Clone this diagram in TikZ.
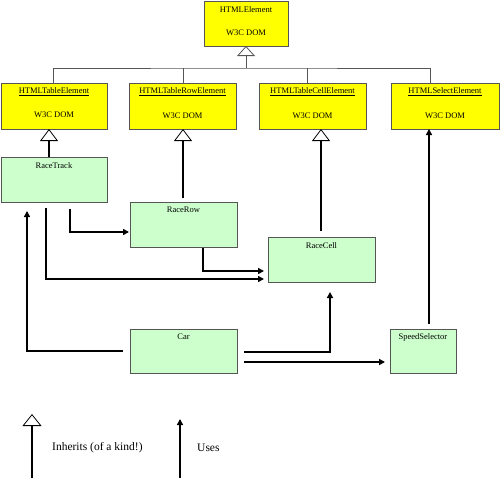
\documentclass[tikz,border=0pt]{standalone}
\usepackage{fontspec}
\setmainfont{Liberation Serif}
\usetikzlibrary{arrows.meta,calc}
\definecolor{boxgreen}{HTML}{CCFFCC}
\definecolor{boxyellow}{HTML}{FFFF00}
\definecolor{edge}{HTML}{555555}
\begin{document}
\begin{tikzpicture}[x=1pt,y=-1pt,
  ybox/.style={draw=edge, line width=0.9pt, fill=boxyellow, anchor=north west, inner sep=0pt, outer sep=0pt, minimum height=46pt},
  gbox/.style={draw=edge, line width=0.9pt, fill=boxgreen, anchor=north west, inner sep=0pt, outer sep=0pt, minimum height=45pt},
  lbl/.style={font=\fontsize{8.5}{10}\selectfont, inner sep=0pt},
  leg/.style={font=\fontsize{11.5}{13}\selectfont, inner sep=0pt, anchor=west},
  tree/.style={draw=edge, line width=1pt},
  inhtop/.style={-{Triangle[open, length=10pt, width=18pt, line width=0.8pt]}},
  inh/.style={draw=black, line width=1.6pt, -{Triangle[open, length=12pt, width=18pt, line width=0.8pt]}},
  uses/.style={draw=black, line width=2pt, -{Triangle[length=6pt, width=6pt]}},
  plain/.style={draw=black, line width=2pt}
]
\useasboundingbox (0,0) rectangle (500,479);

% W3C DOM boxes
\node[ybox, minimum width=84pt, minimum height=45pt] (he) at (204,1) {};
\node[ybox, minimum width=106pt] (hte) at (1,83) {};
\node[ybox, minimum width=107pt] (htr) at (129,83) {};
\node[ybox, minimum width=107pt] (htc) at (259,83) {};
\node[ybox, minimum width=108pt] (hse) at (391,83) {};

\node[lbl] (he-a) at ($(he.north)+(0,9)$) {HTMLElement};
\node[lbl] (he-b) at ($(he.north)+(0,32)$) {W3C DOM};
\node[lbl] (hte-a) at ($(hte.north)+(0,9)$) {\underline{HTMLTableElement}};
\node[lbl] (hte-b) at ($(hte.north)+(0,32)$) {W3C DOM};
\node[lbl] (htr-a) at ($(htr.north)+(0,9)$) {\underline{HTMLTableRowElement}};
\node[lbl] (htr-b) at ($(htr.north)+(0,33)$) {W3C DOM};
\node[lbl] (htc-a) at ($(htc.north)+(0,9)$) {\underline{HTMLTableCellElement}};
\node[lbl] (htc-b) at ($(htc.north)+(0,33)$) {W3C DOM};
\node[lbl] (hse-a) at ($(hse.north)+(0,9)$) {\underline{HTMLSelectElement}};
\node[lbl] (hse-b) at ($(hse.north)+(0,33)$) {W3C DOM};

% application boxes
\node[gbox, minimum width=106pt] (rt) at (1,157) {};
\node[gbox, minimum width=107pt] (rr) at (130,202) {};
\node[gbox, minimum width=107pt] (rc) at (268,237) {};
\node[gbox, minimum width=107pt, minimum height=44pt] (car) at (130,329) {};
\node[gbox, minimum width=66pt, minimum height=44pt] (ss) at (390,329) {};

\node[lbl] (rt-a) at ($(rt.north)+(0,9)$) {RaceTrack};
\node[lbl] (rr-a) at ($(rr.north)+(0,8)$) {RaceRow};
\node[lbl] (rc-a) at ($(rc.north)+(0,9)$) {RaceCell};
\node[lbl] (car-a) at ($(car.north)+(0,8)$) {Car};
\node[lbl] (ss-a) at ($(ss.north)+(0,8)$) {SpeedSelector};

% inheritance tree from HTMLElement
\coordinate (j) at ($(he.south)+(0,22)$);
\draw[tree] ($(hte.north west)+(52,0)$) |- (j) -| ($(hse.north west)+(39,0)$);
\draw[tree] ($(htr.north west)+(54,0)$) -- ($(htr.north west)+(54,-15)$);
\draw[tree] ($(htc.north west)+(48,0)$) -- ($(htc.north west)+(48,-15)$);
\draw[tree, inhtop] (j) -- (he.south);

% inheritance of application classes
\draw[inh] ($(rt.north west)+(48,0)$) -- ($(hte.south west)+(48,0)$);
\draw[inh] ($(rr.north west)+(53,-4)$) -- ($(htr.south west)+(54,0)$);
\draw[inh] ($(rc.north west)+(53,-6)$) -- ($(htc.south west)+(62,0)$);

% uses
\draw[uses] ($(rt.south west)+(69,7)$) |- ($(rr.south west)+(-1,-15)$);
\draw[uses] ($(rt.south west)+(45,6)$) |- ($(rc.south west)+(-4,-3)$);
\draw[uses] ($(rr.south west)+(73,1)$) |- ($(rc.south west)+(-4,-11)$);
\draw[uses] ($(car.north west)+(-7,22)$) -| ($(rt.south west)+(26,9)$);
\draw[uses] ($(car.north east)+(7,23)$) -| ($(rc.south west)+(62,10)$);
\draw[uses] ($(car.north east)+(7,33)$) -- ($(ss.north west)+(-5,33)$);
\draw[uses] ($(ss.north west)+(39,-5)$) -- ($(hse.south west)+(38,0)$);

% legend
\coordinate (li1) at (32,478);
\coordinate (li2) at (32,414);
\coordinate (lu1) at (180,478);
\coordinate (lu2) at (180,419);
\draw[draw=black, line width=1.6pt, -{Triangle[open, length=12pt, width=19pt, line width=0.8pt]}] (li1) -- (li2);
\draw[uses] (lu1) -- (lu2);
\node[leg] (lt1) at (52,448) {Inherits (of a kind!)};
\node[leg] (lt2) at (197,448) {Uses};
\end{tikzpicture}
\end{document}
